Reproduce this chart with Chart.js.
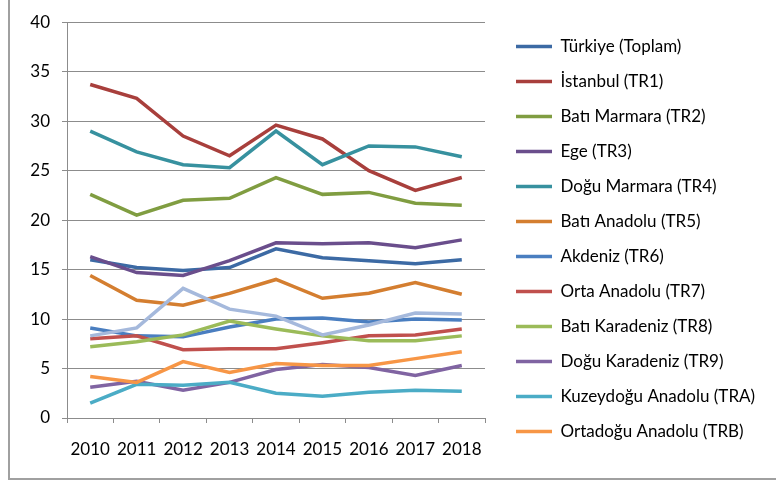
<!DOCTYPE html>
<html>
<head>
<meta charset="utf-8">
<script src="https://cdn.jsdelivr.net/npm/chart.js"></script>
<style>
  body { margin: 0; background: #fff; overflow: hidden; }
  #wrap { position: relative; width: 776px; height: 482px; }
  #frame {
    position: absolute; left: 8px; top: -3px; width: 800px; height: 483px;
    box-sizing: border-box; border: 2px solid #a0a0a0;
  }
  canvas { position: absolute; left: 0; top: 0; }
</style>
</head>
<body>
<div id="wrap">
  <div id="frame"></div>
  <canvas id="myChart" width="776" height="482"></canvas>
</div>
<script>
const years = ["2010", "2011", "2012", "2013", "2014", "2015", "2016", "2017", "2018"];
const yTicks = [0, 5, 10, 15, 20, 25, 30, 35, 40];

const labels = [
  "Türkiye (Toplam)",
  "İstanbul (TR1)",
  "Batı Marmara (TR2)",
  "Ege (TR3)",
  "Doğu Marmara (TR4)",
  "Batı Anadolu (TR5)",
  "Akdeniz (TR6)",
  "Orta Anadolu (TR7)",
  "Batı Karadeniz (TR8)",
  "Doğu Karadeniz (TR9)",
  "Kuzeydoğu Anadolu (TRA)",
  "Ortadoğu Anadolu (TRB)",
  "Güneydoğu Anadolu (TRC)"
];

const turkiye = [16.0, 15.2, 14.9, 15.2, 17.1, 16.2, 15.9, 15.6, 16.0];
const istanbul = [33.7, 32.3, 28.5, 26.5, 29.6, 28.2, 25.0, 23.0, 24.3];
const batiMarmara = [22.6, 20.5, 22.0, 22.2, 24.3, 22.6, 22.8, 21.7, 21.5];
const ege = [16.3, 14.7, 14.4, 15.9, 17.7, 17.6, 17.7, 17.2, 18.0];
const doguMarmara = [29.0, 26.9, 25.6, 25.3, 29.0, 25.6, 27.5, 27.4, 26.4];
const batiAnadolu = [14.4, 11.9, 11.4, 12.6, 14.0, 12.1, 12.6, 13.7, 12.5];
const akdeniz = [9.1, 8.3, 8.2, 9.2, 10.0, 10.1, 9.7, 10.0, 9.9];
const ortaAnadolu = [8.0, 8.3, 6.9, 7.0, 7.0, 7.6, 8.3, 8.4, 9.0];
const batiKaradeniz = [7.2, 7.7, 8.4, 9.8, 9.0, 8.3, 7.8, 7.8, 8.3];
const doguKaradeniz = [3.1, 3.7, 2.8, 3.6, 4.9, 5.4, 5.1, 4.3, 5.3];
const kuzeydogu = [1.5, 3.4, 3.3, 3.6, 2.5, 2.2, 2.6, 2.8, 2.7];
const ortadogu = [4.2, 3.6, 5.7, 4.6, 5.5, 5.3, 5.3, 6.0, 6.7];
const guneydogu = [8.3, 9.1, 13.1, 11.0, 10.3, 8.4, 9.4, 10.6, 10.5];

const series = [turkiye, istanbul, batiMarmara, ege, doguMarmara, batiAnadolu,
  akdeniz, ortaAnadolu, batiKaradeniz, doguKaradeniz, kuzeydogu, ortadogu, guneydogu];

const colors = ["#3c6aa4", "#a83f3c", "#809d41", "#6a4e8c", "#37919f", "#d47e30",
  "#4a7ec0", "#c0504d", "#9bbb59", "#8064a2", "#4bacc6", "#f79646", "#a5b9dc"];

const gridColor = "#8c8c8c";

// later series drawn on top, legend keeps original order
const datasets = series.map((data, i) => ({
  label: labels[i],
  data: data,
  borderColor: colors[i],
  backgroundColor: colors[i],
  borderWidth: 3.5,
  pointRadius: 0,
  tension: 0,
  order: -i
}));

// legend sits a bit away from the plot area and a bit higher
const legendGap = {
  id: "legendGap",
  beforeInit(chart) {
    const origFit = chart.legend.fit;
    chart.legend.fit = function () {
      origFit.call(this);
      this.width = 291;
    };
  },
  afterLayout(chart) {
    chart.legend.left += 13;
    chart.legend.right += 13;
    chart.legend.top -= 12;
    chart.legend.bottom -= 12;
  }
};

Chart.defaults.font.family = "Lato, 'Open Sans', sans-serif";
Chart.defaults.color = "#000";

new Chart(document.getElementById("myChart").getContext("2d"), {
  type: "line",
  data: { labels: years, datasets: datasets },
  plugins: [legendGap],
  options: {
    responsive: false,
    animation: false,
    layout: { padding: { top: 20, left: 0, right: 0, bottom: 0 } },
    plugins: {
      tooltip: { enabled: false },
      legend: {
        position: "right",
        labels: {
          usePointStyle: true,
          pointStyle: "line",
          pointStyleWidth: 36,
          padding: 18,
          font: { size: 17 },
          color: "#000",
          sort: (a, b) => a.datasetIndex - b.datasetIndex,
          filter: (item) => item.datasetIndex < 12
        }
      }
    },
    scales: {
      x: {
        offset: true,
        grid: {
          offset: true,
          drawOnChartArea: false,
          drawTicks: true,
          tickLength: 5,
          color: gridColor
        },
        border: { color: gridColor, width: 1 },
        ticks: { padding: 16, font: { size: 17 }, maxRotation: 0 },
        afterFit(scale) { scale.height = 64; }
      },
      y: {
        min: 0,
        max: 40,
        afterBuildTicks(scale) { scale.ticks = yTicks.map((v) => ({ value: v })); },
        grid: { color: gridColor, tickLength: 5, drawTicks: true },
        border: { color: gridColor, width: 1 },
        ticks: { padding: 12, font: { size: 17 } },
        afterFit(scale) { scale.width = 67; }
      }
    }
  }
});
</script>
</body>
</html>
